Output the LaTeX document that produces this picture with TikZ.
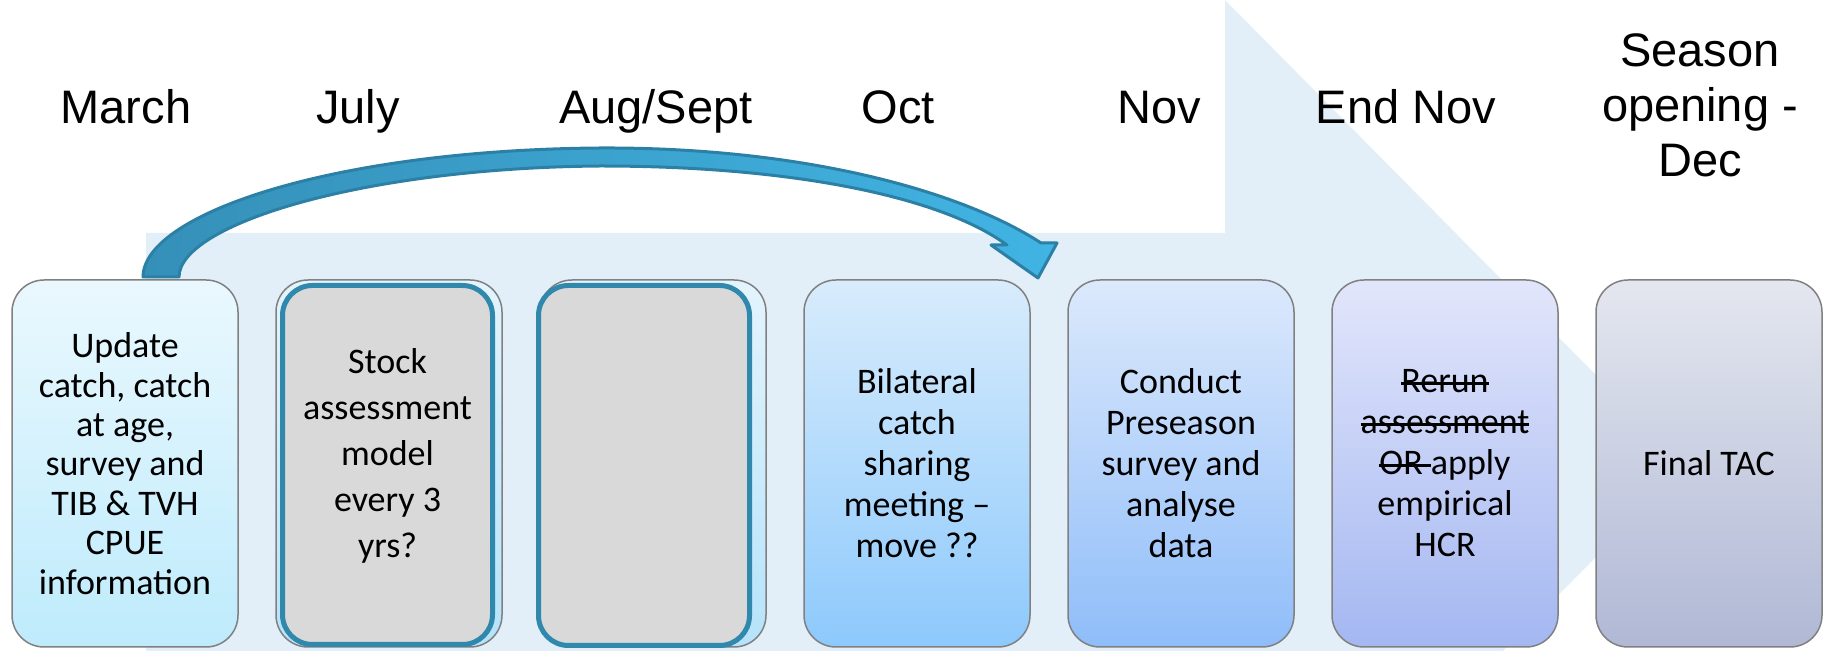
\documentclass[tikz,border=0pt]{standalone}
\usepackage{fontspec}
\setmainfont{Liberation Sans}
\newfontfamily\boxfont[Ligatures=TeX]{Carlito}
\definecolor{bgarrow}{HTML}{E2EEF8}
\definecolor{cardline}{HTML}{808080}
\definecolor{teal}{HTML}{3088AD}
\definecolor{graycard}{HTML}{D9D9D9}
\definecolor{arrowline}{HTML}{2C80A5}
\definecolor{arrowA}{HTML}{3590B8}
\definecolor{arrowB}{HTML}{41B4E4}
\definecolor{caT}{HTML}{EAF8FE}\definecolor{caB}{HTML}{BEEBFC}
\definecolor{cbT}{HTML}{E3F4FC}\definecolor{cbB}{HTML}{B5E3FA}
\definecolor{cdT}{HTML}{D8ECFC}\definecolor{cdB}{HTML}{8DC9FC}
\definecolor{ceT}{HTML}{DCE9FC}\definecolor{ceB}{HTML}{8FBDF9}
\definecolor{cfT}{HTML}{E2E6FB}\definecolor{cfB}{HTML}{A4B7F1}
\definecolor{cgT}{HTML}{E4E7EF}\definecolor{cgB}{HTML}{B0B8D5}
\newcommand{\strk}[1]{\setbox0\hbox{#1}\rlap{\rule[0.22em]{\wd0}{0.07em}}\box0}
\begin{document}
\begin{tikzpicture}[x=0.5pt,y=-0.5pt,
  card/.style={draw=cardline, line width=0.75pt, rounded corners=16pt,
    minimum width=113pt, minimum height=183.5pt, inner sep=0pt},
  innercard/.style={draw=teal, line width=2.5pt, fill=graycard, rounded corners=15pt, inner sep=0pt},
  cardtext/.style={font=\boxfont\fontsize{18}{20.5}\selectfont, align=center, text=black},
  month/.style={font=\fontsize{23.5}{27.5}\selectfont, align=center, inner sep=0pt}]
\useasboundingbox (0,0) rectangle (1827,651);
% background arrow
\begin{scope}
\clip (0,0) rectangle (1827,651);
\fill[bgarrow] (146,233) -- (1225,233) -- (1225,0) -- (1686,466) -- (1225,932)
  -- (1225,699) -- (146,699) -- cycle;
\end{scope}
% curved arrow
\coordinate (abase) at (143,277);
\draw[line width=1.5pt, draw=arrowline, left color=arrowA, right color=arrowB, line join=round]
 (abase) .. controls (143,215) and (330,150) .. (600,148)
 .. controls (800,147) and (960,190) .. (1041,243)
 -- (1057,243) -- (1038,278) -- (991,245) -- (1007,245)
 .. controls (940,196) and (790,166) .. (600,166)
 .. controls (360,168) and (179,225) .. (179,277) -- cycle;
% cards
\node[card, top color=caT, bottom color=caB, cardtext, font=\boxfont\fontsize{18}{19.7}\selectfont] (b1) at (125,463.5)
  {Update\\catch, catch\\at age,\\survey and\\TIB \& TVH\\CPUE\\information};
\node[card, top color=cbT, bottom color=cbB] (b2) at (389,463.5) {};
\node[innercard, minimum width=105pt, minimum height=179.5pt] (b2in) at (387.5,465) {};
\node[cardtext, font=\boxfont\fontsize{18}{23}\selectfont] (t2) at (387.5,456)
  {Stock\\assessment\\model\\every 3\\yrs?};
\node[card, top color=cbT, bottom color=cbB] (b3) at (653,463.5) {};
\node[innercard, minimum width=105.5pt, minimum height=180pt] (b3in) at (644,465.5) {};
\node[card, top color=cdT, bottom color=cdB, cardtext] (b4) at (917,463.5)
  {Bilateral\\catch\\sharing\\meeting –\\move ??};
\node[card, top color=ceT, bottom color=ceB, cardtext] (b5) at (1181,463.5)
  {Conduct\\Preseason\\survey and\\analyse\\data};
\node[card, top color=cfT, bottom color=cfB, cardtext] (b6) at (1445,463.5)
  {\strk{Rerun}\\\strk{assessment}\\\strk{OR }apply\\empirical\\HCR};
\node[card, top color=cgT, bottom color=cgB, cardtext] (b7) at (1709,463.5)
  {Final TAC};
% months
\node[month, anchor=base] (m1) at (126,124) {March};
\node[month, anchor=base] (m2) at (358,124) {July};
\node[month, anchor=base] (m3) at (656,124) {Aug/Sept};
\node[month, anchor=base] (m4) at (898,124) {Oct};
\node[month, anchor=base] (m5) at (1159,124) {Nov};
\node[month, anchor=base] (m6) at (1406,124) {End Nov};
\node[month] (m7) at (1700,105) {Season\\opening -\\Dec};
\end{tikzpicture}
\end{document}
